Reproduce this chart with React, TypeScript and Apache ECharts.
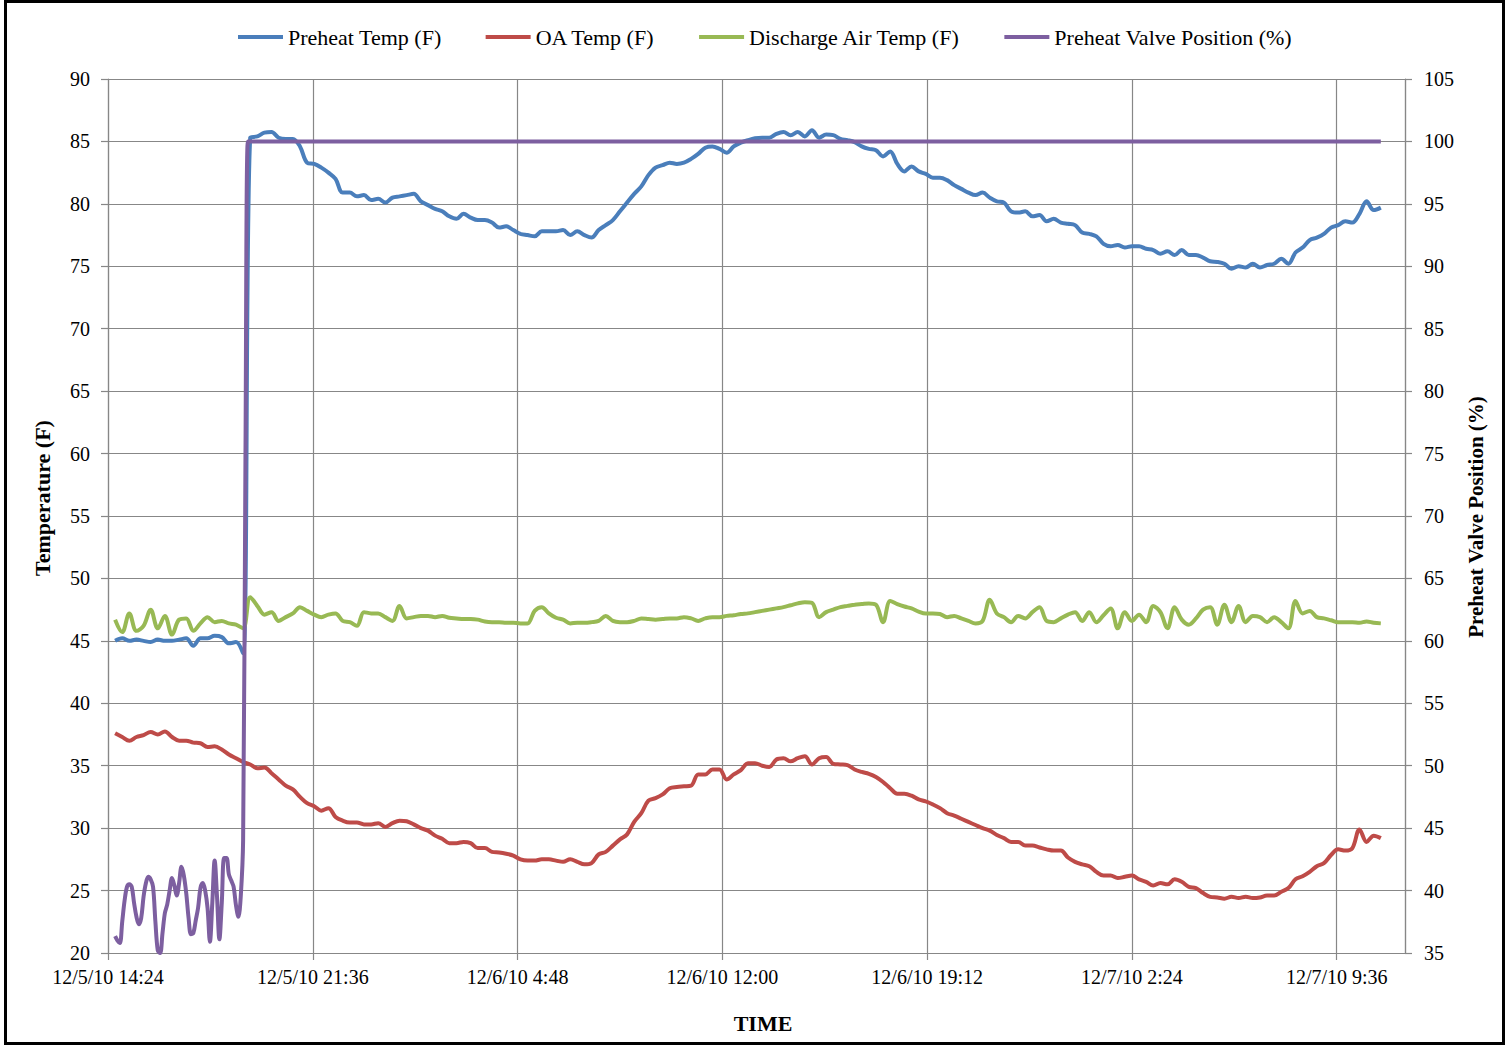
import { useEffect, useRef } from 'react';
import * as echarts from 'echarts';

const FONT = '"Liberation Serif", "Times New Roman", serif';

// Time axis is expressed in hours after 12/5/10 14:24.
const X_MAX_HOURS = 45.6;
const X_TICK_HOURS = 7.2;
const xTickLabels = [
  '12/5/10 14:24',
  '12/5/10 21:36',
  '12/6/10 4:48',
  '12/6/10 12:00',
  '12/6/10 19:12',
  '12/7/10 2:24',
  '12/7/10 9:36',
];

// Trend log: one reading every 15 minutes, the first at 14:39.
const FIRST_READING_H = 0.25;
const READING_STEP_H = 0.25;

const preheatTemp = [
  45.0, 45.2, 45.0, 45.1, 45.0, 44.9, 45.1, 45.0, 45.0, 45.1,
  45.2, 44.6, 45.2, 45.2, 45.4, 45.3, 44.8, 44.9, 44.0, 85.3,
  85.4, 85.7, 85.75, 85.3, 85.2, 85.2, 84.6, 83.3, 83.2, 82.9,
  82.5, 82.0, 80.9, 80.9, 80.6, 80.7, 80.3, 80.4, 80.1, 80.5,
  80.6, 80.7, 80.8, 80.2, 79.9, 79.6, 79.4, 79.0, 78.8, 79.2,
  78.9, 78.7, 78.7, 78.5, 78.1, 78.2, 77.9, 77.6, 77.5, 77.4,
  77.8, 77.8, 77.8, 77.9, 77.5, 77.8, 77.5, 77.3, 77.9, 78.3,
  78.7, 79.4, 80.1, 80.8, 81.4, 82.3, 82.9, 83.1, 83.3, 83.2,
  83.3, 83.6, 84.0, 84.5, 84.6, 84.4, 84.1, 84.6, 84.9, 85.1,
  85.25, 85.3, 85.3, 85.6, 85.75, 85.5, 85.75, 85.4, 85.9, 85.3,
  85.55, 85.5, 85.2, 85.1, 84.95, 84.6, 84.4, 84.3, 83.8, 84.2,
  83.2, 82.6, 83.0, 82.6, 82.4, 82.1, 82.1, 81.9, 81.5, 81.2,
  80.9, 80.7, 80.9, 80.5, 80.2, 80.1, 79.4, 79.3, 79.4, 79.0,
  79.1, 78.6, 78.8, 78.5, 78.4, 78.3, 77.7, 77.6, 77.4, 76.8,
  76.6, 76.7, 76.5, 76.6, 76.6, 76.4, 76.3, 76.0, 76.2, 75.9,
  76.3, 75.9, 75.9, 75.7, 75.4, 75.35, 75.2, 74.8, 75.0, 74.9,
  75.2, 74.9, 75.1, 75.2, 75.6, 75.2, 76.1, 76.5, 77.1, 77.3,
  77.6, 78.1, 78.3, 78.6, 78.5, 79.2, 80.2, 79.5, 79.7,
];

const oaTemp = [
  37.6, 37.3, 37.0, 37.3, 37.45, 37.7, 37.5, 37.75, 37.3, 37.0,
  37.0, 36.85, 36.8, 36.5, 36.55, 36.3, 35.9, 35.6, 35.3, 35.1,
  34.8, 34.85, 34.4, 33.9, 33.4, 33.1, 32.5, 32.0, 31.75, 31.4,
  31.6, 30.9, 30.6, 30.45, 30.45, 30.3, 30.3, 30.4, 30.1, 30.4,
  30.6, 30.55, 30.3, 30.0, 29.8, 29.4, 29.15, 28.8, 28.8, 28.9,
  28.8, 28.4, 28.4, 28.1, 28.05, 27.95, 27.8, 27.5, 27.4, 27.4,
  27.5, 27.5, 27.4, 27.3, 27.5, 27.3, 27.1, 27.2, 27.9, 28.1,
  28.6, 29.1, 29.5, 30.5, 31.2, 32.2, 32.4, 32.7, 33.2, 33.3,
  33.35, 33.4, 34.3, 34.3, 34.7, 34.7, 33.9, 34.3, 34.65, 35.2,
  35.2, 35.0, 34.9, 35.5, 35.6, 35.35, 35.6, 35.75, 35.1, 35.6,
  35.7, 35.15, 35.1, 35.05, 34.7, 34.5, 34.35, 34.1, 33.7, 33.2,
  32.75, 32.75, 32.6, 32.3, 32.15, 31.9, 31.6, 31.2, 31.0, 30.75,
  30.5, 30.25, 30.0, 29.8, 29.45, 29.2, 28.9, 28.9, 28.6, 28.6,
  28.45, 28.3, 28.2, 28.2, 27.65, 27.3, 27.1, 26.95, 26.5, 26.2,
  26.2, 26.0, 26.1, 26.2, 25.9, 25.7, 25.4, 25.6, 25.5, 25.9,
  25.7, 25.3, 25.2, 24.8, 24.5, 24.45, 24.35, 24.5, 24.4, 24.5,
  24.4, 24.45, 24.6, 24.6, 24.9, 25.2, 25.9, 26.15, 26.5, 26.95,
  27.2, 27.85, 28.3, 28.2, 28.4, 29.9, 28.9, 29.4, 29.2,
];

const dischargeAirTemp = [
  46.7, 45.7, 47.2, 45.8, 46.2, 47.5, 46.0, 47.0, 45.5, 46.7,
  46.8, 45.8, 46.4, 46.9, 46.5, 46.6, 46.4, 46.3, 46.0, 48.5,
  47.8, 47.1, 47.3, 46.6, 46.9, 47.2, 47.7, 47.4, 47.1, 46.9,
  47.1, 47.2, 46.6, 46.5, 46.2, 47.3, 47.2, 47.2, 46.9, 46.6,
  47.8, 46.8, 46.9, 47.0, 47.0, 46.9, 47.0, 46.85, 46.8, 46.75,
  46.75, 46.7, 46.55, 46.5, 46.5, 46.45, 46.45, 46.4, 46.4, 47.4,
  47.7, 47.2, 46.85, 46.7, 46.4, 46.45, 46.45, 46.5, 46.6, 47.0,
  46.6, 46.5, 46.5, 46.6, 46.8, 46.75, 46.7, 46.75, 46.8, 46.8,
  46.9, 46.8, 46.6, 46.8, 46.9, 46.9, 47.0, 47.05, 47.15, 47.2,
  47.3, 47.4, 47.5, 47.6, 47.7, 47.85, 48.0, 48.1, 48.05, 46.9,
  47.3, 47.5, 47.7, 47.8, 47.9, 47.95, 48.0, 47.9, 46.5, 48.2,
  47.95, 47.75, 47.6, 47.35, 47.2, 47.2, 47.15, 46.9, 47.0, 46.8,
  46.6, 46.4, 46.6, 48.3, 47.2, 46.9, 46.5, 47.0, 46.8, 47.3,
  47.7, 46.6, 46.5, 46.8, 47.1, 47.3, 46.6, 47.3, 46.5, 47.05,
  47.6, 46.0, 47.3, 46.6, 47.1, 46.5, 47.8, 47.3, 46.0, 47.7,
  46.7, 46.3, 46.8, 47.5, 47.7, 46.3, 47.9, 46.5, 47.8, 46.5,
  47.0, 46.9, 46.5, 46.9, 46.5, 46.0, 48.2, 47.2, 47.4, 46.9,
  46.8, 46.65, 46.5, 46.5, 46.5, 46.45, 46.55, 46.45, 46.4,
];

// Valve position logged every 5 minutes while it was modulating,
// then held fully open until the last reading.
const VALVE_STEP_H = 5 / 60;
const valveModulating = [
  36.35, 36.0, 35.8, 37.5, 39.2, 40.3, 40.5, 40.3, 39.0, 37.9,
  37.3, 37.8, 39.5, 40.6, 41.1, 40.9, 40.3, 37.5, 35.2, 35.0,
  36.6, 38.2, 38.9, 40.0, 41.0, 40.4, 39.6, 40.6, 41.9, 41.2,
  39.8, 37.8, 36.5, 36.6, 37.6, 38.6, 40.2, 40.6, 40.0, 38.6,
  35.9, 39.0, 42.4, 39.5, 36.1, 39.0, 42.6, 42.6, 41.3, 40.8,
  40.3, 38.8, 37.9, 39.5, 44.0, 75.0, 100, 100,
];
const VALVE_LAST_READING_H = 44.75;
const VALVE_LAST_READING = 100;

const seriesNames = [
  'Preheat Temp (F)',
  'OA Temp (F)',
  'Discharge Air Temp (F)',
  'Preheat Valve Position (%)',
];
const seriesColors = ['#4A7EBB', '#BE4B48', '#98B954', '#7D5FA0'];

const toPoints = (values: number[], first: number, step: number) =>
  values.map((v, i) => [first + i * step, v]);

export default function App() {
  const ref = useRef<HTMLDivElement>(null);

  useEffect(() => {
    if (!ref.current) return;
    const chart = echarts.init(ref.current, undefined, { renderer: 'svg' });

    const gridColor = '#878787';
    const valvePoints = toPoints(valveModulating, FIRST_READING_H, VALVE_STEP_H);
    valvePoints.push([VALVE_LAST_READING_H, VALVE_LAST_READING]);

    const lineSeries = (idx: number, data: number[][], yAxisIndex: number) => ({
      type: 'line' as const,
      name: seriesNames[idx],
      data,
      yAxisIndex,
      smooth: 0.35,
      symbol: 'none',
      showSymbol: false,
      lineStyle: { color: seriesColors[idx], width: 4 },
      itemStyle: { color: seriesColors[idx] },
      z: 2 + idx,
    });

    chart.setOption({
      animation: false,
      backgroundColor: '#ffffff',
      grid: { left: 108, right: 102, top: 79, bottom: 93, containLabel: false },
      legend: {
        left: 238,
        top: 26,
        padding: 0,
        icon: 'rect',
        itemWidth: 45,
        itemHeight: 4,
        itemGap: 44,
        data: seriesNames,
        textStyle: { fontFamily: FONT, fontSize: 22, color: '#000' },
      },
      xAxis: {
        type: 'value',
        min: 0,
        max: X_MAX_HOURS,
        interval: X_TICK_HOURS,
        axisLine: { show: true, lineStyle: { color: gridColor, width: 1.2 } },
        axisTick: { show: true, length: 7, inside: false, lineStyle: { color: gridColor, width: 1.2 } },
        axisLabel: {
          showMaxLabel: false,
          margin: 14,
          fontFamily: FONT,
          fontSize: 20,
          color: '#000',
          formatter: (v: number) => xTickLabels[Math.round(v / X_TICK_HOURS)] ?? '',
        },
        splitLine: { show: true, lineStyle: { color: gridColor, width: 1.2 } },
      },
      yAxis: [
        {
          type: 'value',
          position: 'left',
          min: 20,
          max: 90,
          interval: 5,
          axisLine: { show: true, lineStyle: { color: gridColor, width: 1.2 } },
          axisTick: { show: true, length: 7, lineStyle: { color: gridColor, width: 1.2 } },
          axisLabel: { margin: 18, fontFamily: FONT, fontSize: 20, color: '#000' },
          splitLine: { show: true, lineStyle: { color: gridColor, width: 1.2 } },
        },
        {
          type: 'value',
          position: 'right',
          min: 35,
          max: 105,
          interval: 5,
          axisLine: { show: true, lineStyle: { color: gridColor, width: 1.2 } },
          axisTick: { show: true, length: 7, lineStyle: { color: gridColor, width: 1.2 } },
          axisLabel: { margin: 19, fontFamily: FONT, fontSize: 20, color: '#000' },
          splitLine: { show: false },
        },
      ],
      series: [
        lineSeries(0, toPoints(preheatTemp, FIRST_READING_H, READING_STEP_H), 0),
        lineSeries(1, toPoints(oaTemp, FIRST_READING_H, READING_STEP_H), 0),
        lineSeries(2, toPoints(dischargeAirTemp, FIRST_READING_H, READING_STEP_H), 0),
        lineSeries(3, valvePoints, 1),
      ],
      graphic: [
        {
          type: 'rect',
          shape: { x: 5.5, y: 1.5, width: 1498, height: 1042 },
          style: { fill: 'none', stroke: '#000', lineWidth: 3 },
          silent: true,
        },
        {
          type: 'text',
          x: 42,
          y: 498,
          rotation: Math.PI / 2,
          style: {
            text: 'Temperature (F)',
            font: `bold 22px ${FONT}`,
            fill: '#000',
            align: 'center',
            verticalAlign: 'middle',
            textAlign: 'center',
            textVerticalAlign: 'middle',
          },
        },
        {
          type: 'text',
          x: 1476,
          y: 517,
          rotation: Math.PI / 2,
          style: {
            text: 'Preheat Valve Position (%)',
            font: `bold 21px ${FONT}`,
            fill: '#000',
            align: 'center',
            verticalAlign: 'middle',
            textAlign: 'center',
            textVerticalAlign: 'middle',
          },
        },
        {
          type: 'text',
          x: 763,
          y: 1023,
          style: {
            text: 'TIME',
            font: `bold 22px ${FONT}`,
            fill: '#000',
            align: 'center',
            verticalAlign: 'middle',
            textAlign: 'center',
            textVerticalAlign: 'middle',
          },
        },
      ],
    });

    return () => chart.dispose();
  }, []);

  return (
    <div
      ref={ref}
      style={{ position: 'absolute', left: 0, top: 0, width: 1507, height: 1046, background: '#fff' }}
    />
  );
}
